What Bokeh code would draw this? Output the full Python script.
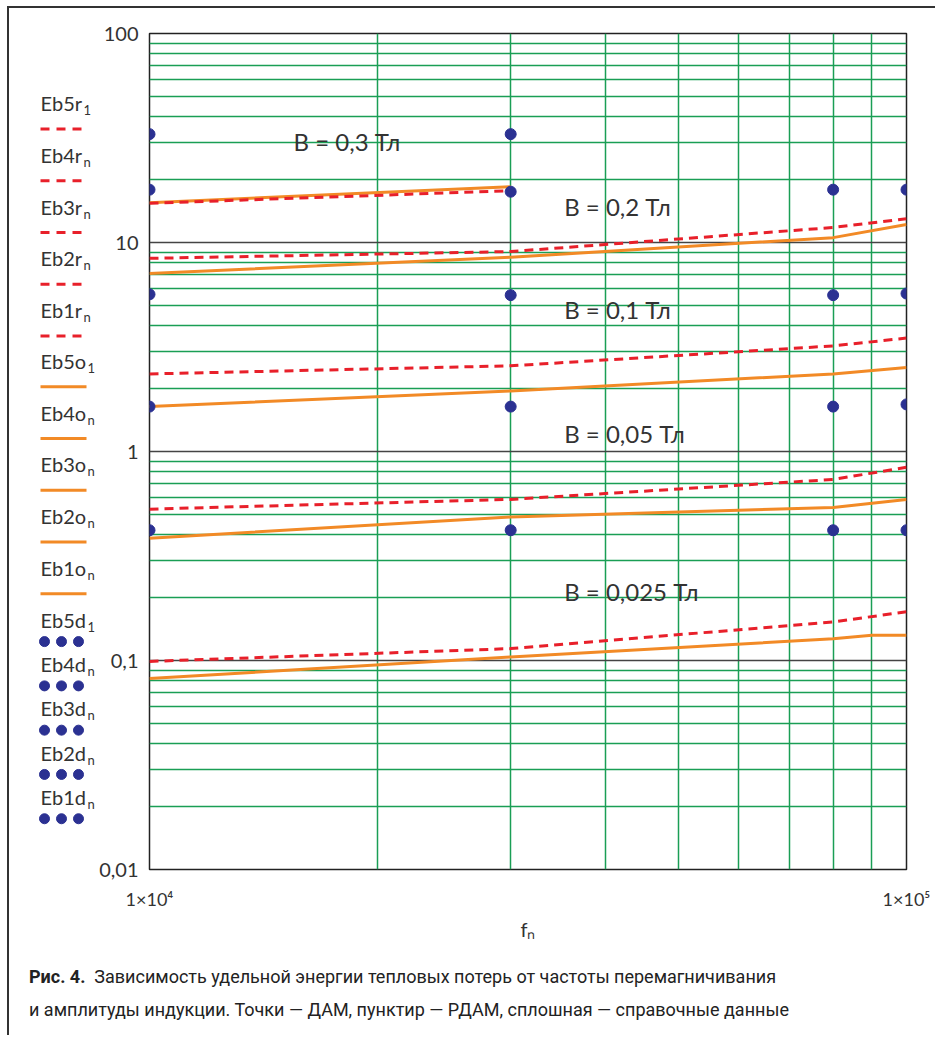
from bokeh.plotting import figure
from bokeh.models import Range1d, FixedTicker, Div
from bokeh.layouts import row, column
from bokeh.embed import file_html
from bokeh.resources import INLINE
from bokeh.core.properties import value

# ---------------- data ----------------
freq = [1e4, 3e4, 8e4, 1e5]
freq_03 = [1e4, 3e4]
freq_ref_0025 = [1e4, 3e4, 8e4, 9e4, 1e5]

# points (ДАМ)
dam_03 = [33.0, 33.0]
dam_02 = [17.9, 17.5, 17.9, 17.9]
dam_01 = [5.65, 5.6, 5.6, 5.7]
dam_005 = [1.64, 1.64, 1.64, 1.68]
dam_0025 = [0.42, 0.42, 0.42, 0.42]

# dashed (РДАМ)
rdam_03 = [15.4, 17.7]
rdam_02 = [8.4, 9.05, 11.8, 13.0]
rdam_01 = [2.35, 2.57, 3.2, 3.49]
rdam_005 = [0.53, 0.59, 0.735, 0.84]
rdam_0025 = [0.099, 0.114, 0.153, 0.171]

# solid (справочные данные)
ref_03 = [15.5, 18.5]
ref_02 = [7.1, 8.5, 10.55, 12.2]
ref_01 = [1.64, 1.95, 2.35, 2.52]
ref_005 = [0.385, 0.486, 0.54, 0.59]
ref_0025 = [0.082, 0.104, 0.127, 0.132, 0.132]

b_labels = ["B = 0,3 Тл", "B = 0,2 Тл", "B = 0,1 Тл", "B = 0,05 Тл", "B = 0,025 Тл"]
b_label_x = [15500, 35300, 35300, 35300, 35300]
b_label_y = [30.3, 14.8, 4.8, 1.22, 0.213]

y_ticks = [0.01, 0.1, 1, 10, 100]
y_tick_labels = ["0,01", "0,1", "1", "10", "100"]
x_ticks = [1e4, 1e5]
x_tick_labels = ["1×10⁴", "1×10⁵"]

legend_r = ["Eb5r", "Eb4r", "Eb3r", "Eb2r", "Eb1r"]
legend_o = ["Eb5o", "Eb4o", "Eb3o", "Eb2o", "Eb1o"]
legend_d = ["Eb5d", "Eb4d", "Eb3d", "Eb2d", "Eb1d"]
legend_sub = ["1", "n", "n", "n", "n"]

caption_bold = "Рис. 4."
caption_l1 = "Зависимость удельной энергии тепловых потерь от частоты перемагничивания"
caption_l2 = "и амплитуды индукции. Точки — ДАМ, пунктир — РДАМ, сплошная — справочные данные"

# ---------------- styles ----------------
FONT = "Lato"
TXT = "#333333"
GREEN = "#1a9e55"
ORANGE = "#f28a26"
RED = "#e8202a"
BLUE = "#2b3192"

H = 935
BT, BB = 25, 70
X0 = 9          # page x of layout content
LGW = 87

# ---------------- main figure ----------------
p = figure(width=839, height=H, x_axis_type="log", y_axis_type="log",
           x_range=Range1d(1e4, 1e5), y_range=Range1d(0.01, 100),
           min_border_left=52, min_border_right=29, min_border_top=BT, min_border_bottom=BB,
           output_backend="svg", toolbar_location=None)
p.outline_line_color = "#222222"
p.outline_line_width = 1.5
p.background_fill_color = "white"
p.border_fill_color = "white"

minor_y = [m * 10.0 ** e for e in range(-2, 2) for m in range(2, 10)]
minor_x = [m * 1e4 for m in range(2, 10)]
p.yaxis.ticker = FixedTicker(ticks=y_ticks, minor_ticks=minor_y)
p.xaxis.ticker = FixedTicker(ticks=x_ticks, minor_ticks=minor_x)
p.ygrid.ticker = FixedTicker(ticks=y_ticks, minor_ticks=minor_y)
p.xgrid.ticker = FixedTicker(ticks=x_ticks, minor_ticks=minor_x)

p.ygrid.grid_line_color = "#444444"
p.ygrid.grid_line_width = 1.3
p.ygrid.minor_grid_line_color = GREEN
p.ygrid.minor_grid_line_width = 1.5
p.xgrid.grid_line_color = "#333333"
p.xgrid.minor_grid_line_color = GREEN
p.xgrid.minor_grid_line_width = 1.5

p.yaxis.major_label_overrides = {t: l for t, l in zip(y_ticks, y_tick_labels)}
p.xaxis.major_label_overrides = {t: l for t, l in zip(x_ticks, x_tick_labels)}
for ax in (p.xaxis, p.yaxis):
    ax.axis_line_color = None
    ax.major_tick_line_color = None
    ax.minor_tick_line_color = None
    ax.major_tick_out = 0
    ax.major_tick_in = 0
    ax.minor_tick_out = 0
    ax.minor_tick_in = 0
    ax.major_label_text_font = FONT
    ax.major_label_text_font_size = "20px"
    ax.major_label_text_color = TXT
p.yaxis.major_label_standoff = 11
p.xaxis.major_label_text_font_size = "18px"
p.xaxis.major_label_standoff = 18
p.xaxis.axis_label = "fₙ"
p.xaxis.axis_label_text_font = FONT
p.xaxis.axis_label_text_font_style = "normal"
p.xaxis.axis_label_text_font_size = "20px"
p.xaxis.axis_label_text_color = TXT
p.xaxis.axis_label_standoff = 4

# reference (solid orange)
for fx, fy in [(freq_03, ref_03), (freq, ref_02), (freq, ref_01), (freq, ref_005), (freq_ref_0025, ref_0025)]:
    p.line(fx, fy, line_color=ORANGE, line_width=3)
# RDAM (dashed red)
for fx, fy in [(freq_03, rdam_03), (freq, rdam_02), (freq, rdam_01), (freq, rdam_005), (freq, rdam_0025)]:
    p.line(fx, fy, line_color=RED, line_width=3, line_dash="9 6")
# DAM (points)
for fx, fy in [(freq_03, dam_03), (freq, dam_02), (freq, dam_01), (freq, dam_005), (freq, dam_0025)]:
    p.scatter(fx, fy, size=11, fill_color=BLUE, line_color=BLUE)

p.text(x=b_label_x, y=b_label_y, text=b_labels, text_font=value(FONT), text_font_size="24px",
       text_color=TXT, text_baseline="middle", text_align="left")

# ---------------- legend figure (page-pixel coordinates, frame aligned with main frame) ----------------
lg = figure(width=LGW, height=H, x_range=Range1d(X0, X0 + LGW), y_range=Range1d(873, 33),
            min_border_left=0, min_border_right=0, min_border_top=BT, min_border_bottom=BB,
            output_backend="svg", toolbar_location=None)
lg.axis.visible = False
lg.grid.visible = False
lg.outline_line_color = None

TX = 40
r_y = [103 + 52 * i for i in range(5)]
o_y = [362 + 52 * i for i in range(5)]
d_y = [622 + 44.5 * i for i in range(5)]

def legend_text(names, ys, sub_x):
    lg.text(x=[TX] * len(names), y=ys, text=names, text_font=value(FONT), text_font_size="20px",
            text_color=TXT, text_baseline="middle")
    lg.text(x=[sub_x] * len(names), y=[v + 7 for v in ys], text=legend_sub, text_font=value(FONT),
            text_font_size="13px", text_color=TXT, text_baseline="middle")

legend_text(legend_r, r_y, 83)
legend_text(legend_o, o_y, 87)
legend_text(legend_d, d_y, 87)

for yv in r_y:
    lg.line([TX, 81], [yv + 26, yv + 26], line_color=RED, line_width=3, line_dash="9 7")
for yv in o_y:
    lg.line([TX, 86], [yv + 26, yv + 26], line_color=ORANGE, line_width=3)
for yv in d_y:
    lg.scatter([44, 61, 78], [yv + 22] * 3, size=10, fill_color=BLUE, line_color=BLUE)

cap = Div(text=f"<b>{caption_bold}</b>&nbsp; {caption_l1}<br>{caption_l2}", width=880, height=82,
          styles={"font-family": "Roboto", "font-size": "18px", "line-height": "33px",
                  "color": "#222222", "padding-left": "15px", "padding-top": "12px"})

layout = column(row(lg, p), cap,
                styles={"border-left": "2px solid #333", "border-top": "2px solid #333",
                        "margin-left": "7px", "margin-top": "6px"})

open("out.html", "w").write(file_html(layout, INLINE))
